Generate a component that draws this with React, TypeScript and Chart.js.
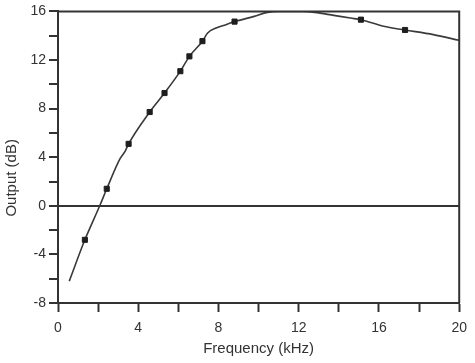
import React, { useEffect, useRef } from "react";
import { Chart, registerables } from "chart.js";

Chart.register(...registerables);

// Smooth response curve (frequency in kHz, output in dB)
const curveFreq = [0.56, 1.34, 2.08, 2.43, 3.1, 3.35, 3.52, 4.57, 5.31, 6.1, 6.55, 7.2, 7.46, 7.88, 8.37, 8.8, 9.78, 10.44, 11.0, 12.2, 12.8, 13.75, 14.58, 15.1, 16.23, 17.3, 18.71, 20];
const curveOutput = [-6.2, -2.8, 0.0, 1.4, 3.9, 4.5, 5.1, 7.72, 9.28, 11.08, 12.3, 13.55, 14.22, 14.63, 14.91, 15.16, 15.59, 15.92, 16.0, 16.0, 15.92, 15.67, 15.45, 15.32, 14.77, 14.47, 14.09, 13.62];

// Measured points (square markers)
const markerFreq = [1.34, 2.43, 3.52, 4.57, 5.31, 6.1, 6.55, 7.2, 8.8, 15.1, 17.3];
const markerOutput = [-2.8, 1.4, 5.1, 7.72, 9.28, 11.08, 12.3, 13.55, 15.16, 15.32, 14.47];

const xLabels = [0, 4, 8, 12, 16, 20];
const yLabels = [-8, -4, 0, 4, 8, 12, 16];

const xTitle = "Frequency (kHz)";
const yTitle = "Output (dB)";

const INK = "#333333";
const FONT = "'Liberation Sans', Arial, sans-serif";

export default function App() {
  const ref = useRef<HTMLCanvasElement | null>(null);

  useEffect(() => {
    document.body.style.margin = "0";
    const canvas = ref.current;
    if (!canvas) return;

    const frame = {
      id: "frame",
      afterDraw(chart: any) {
        const { ctx, chartArea } = chart;
        ctx.save();
        ctx.strokeStyle = INK;
        ctx.lineWidth = 2;
        ctx.beginPath();
        ctx.moveTo(chartArea.left, chartArea.top);
        ctx.lineTo(chartArea.right, chartArea.top);
        ctx.lineTo(chartArea.right, chartArea.bottom);
        ctx.stroke();
        // y-axis title
        const yScale = chart.scales.y;
        ctx.fillStyle = INK;
        ctx.font = `15px ${FONT}`;
        ctx.textAlign = "center";
        ctx.textBaseline = "middle";
        ctx.translate(12, yScale.getPixelForValue(2.3));
        ctx.rotate(-Math.PI / 2);
        ctx.fillText(yTitle, 0, 0);
        ctx.restore();
      },
    };

    const chart = new Chart(canvas, {
      type: "line",
      data: {
        datasets: [
          {
            data: curveFreq.map((x, i) => ({ x, y: curveOutput[i] })),
            borderColor: "#3a3a3a",
            borderWidth: 1.6,
            pointRadius: 0,
            cubicInterpolationMode: "monotone",
            fill: false,
            order: 2,
          },
          {
            data: markerFreq.map((x, i) => ({ x, y: markerOutput[i] })),
            showLine: false,
            pointStyle: "rect",
            pointRadius: 3.6,
            pointBackgroundColor: "#1e1e1e",
            pointBorderColor: "#1e1e1e",
            pointBorderWidth: 1,
            order: 1,
          },
        ],
      },
      options: {
        responsive: false,
        animation: false,
        events: [],
        layout: { padding: { left: 0, right: 14, top: 10, bottom: 0 } },
        plugins: { legend: { display: false }, tooltip: { enabled: false } },
        scales: {
          x: {
            type: "linear",
            min: 0,
            max: 20,
            afterFit: (s: any) => {
              s.height = 60;
            },
            ticks: {
              stepSize: 2,
              color: INK,
              font: { family: FONT, size: 14 },
              padding: 8,
              maxRotation: 0,
              callback: (v: any) => (xLabels.includes(Number(v)) ? String(v) : ""),
            },
            grid: {
              drawOnChartArea: false,
              drawTicks: true,
              tickLength: 9,
              tickColor: INK,
              tickWidth: 2,
            },
            border: { display: true, color: INK, width: 2 },
            title: {
              display: true,
              text: xTitle,
              color: INK,
              font: { family: FONT, size: 15 },
              padding: { top: 0, bottom: 5 },
            },
          },
          y: {
            type: "linear",
            min: -8,
            max: 16,
            afterFit: (s: any) => {
              s.width = 58;
            },
            ticks: {
              stepSize: 2,
              color: INK,
              font: { family: FONT, size: 14 },
              padding: 3,
              callback: (v: any) => (yLabels.includes(Number(v)) ? String(v) : ""),
            },
            grid: {
              drawOnChartArea: true,
              drawTicks: true,
              tickLength: 9,
              tickColor: INK,
              tickWidth: 2,
              color: (c: any) => (c.tick && c.tick.value === 0 ? INK : "rgba(0,0,0,0)"),
              lineWidth: 2,
            },
            border: { display: true, color: INK, width: 2 },
          },
        },
      },
      plugins: [frame],
    } as any);

    return () => chart.destroy();
  }, []);

  return (
    <div style={{ width: 475, height: 363 }}>
      <canvas ref={ref} width={475} height={363} />
    </div>
  );
}
